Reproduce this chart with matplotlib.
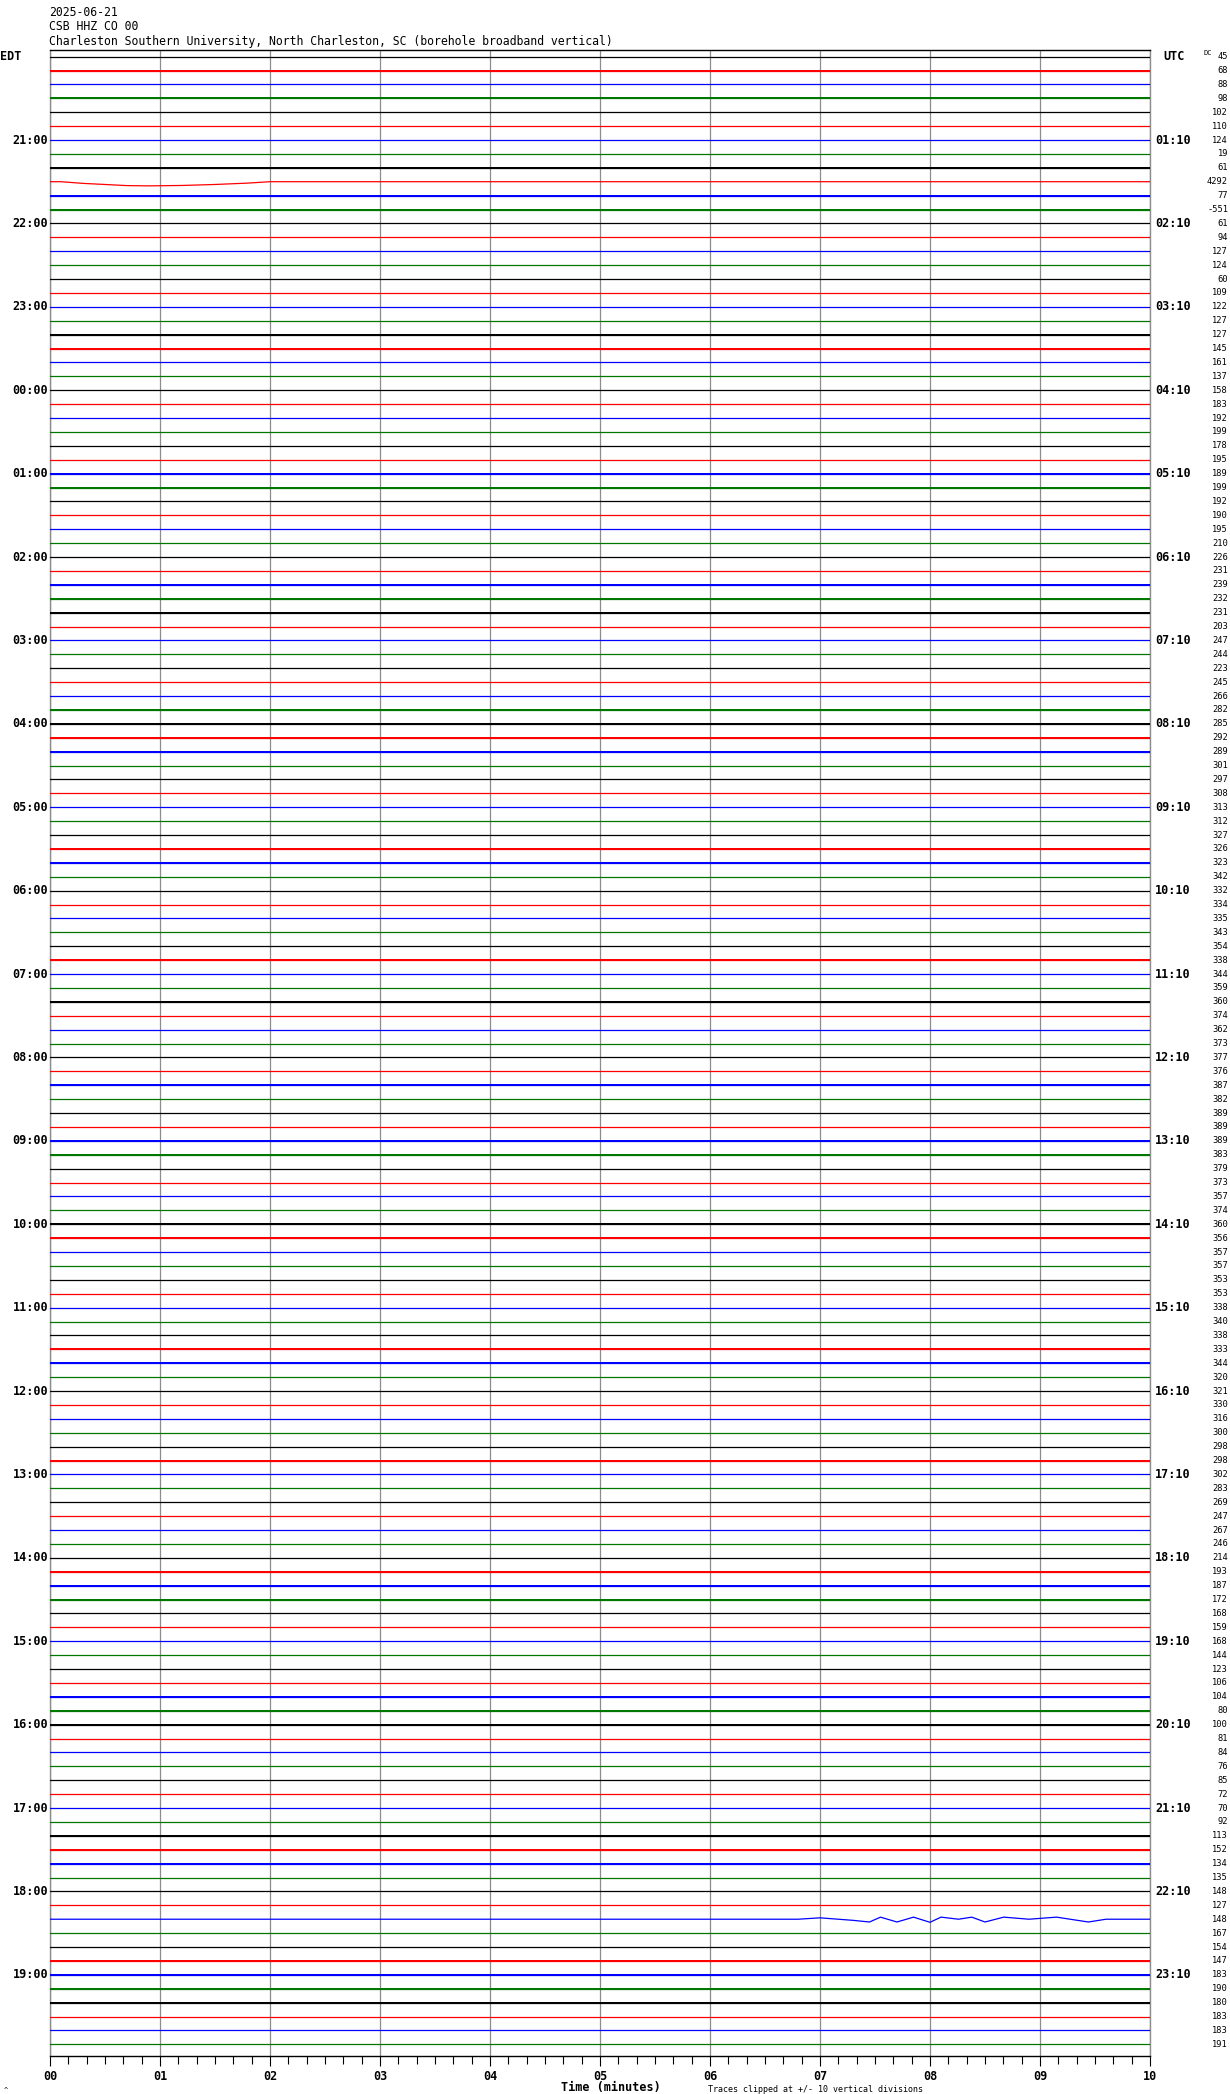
import numpy as np
import matplotlib.pyplot as plt
from matplotlib.ticker import MultipleLocator
from matplotlib.transforms import blended_transform_factory

# DC value printed at the right of every 10-minute line, 20:00 EDT .. 19:50 EDT
dc_values = [
    45, 68, 88, 98, 102, 110,
    124, 19, 61, 4292, 77, -551,
    61, 94, 127, 124, 60, 109,
    122, 127, 127, 145, 161, 137,
    158, 183, 192, 199, 178, 195,
    189, 199, 192, 190, 195, 210,
    226, 231, 239, 232, 231, 203,
    247, 244, 223, 245, 266, 282,
    285, 292, 289, 301, 297, 308,
    313, 312, 327, 326, 323, 342,
    332, 334, 335, 343, 354, 338,
    344, 359, 360, 374, 362, 373,
    377, 376, 387, 382, 389, 389,
    389, 383, 379, 373, 357, 374,
    360, 356, 357, 357, 353, 353,
    338, 340, 338, 333, 344, 320,
    321, 330, 316, 300, 298, 298,
    302, 283, 269, 247, 267, 246,
    214, 193, 187, 172, 168, 159,
    168, 144, 123, 106, 104, 80,
    100, 81, 84, 76, 85, 72,
    70, 92, 113, 152, 134, 135,
    148, 127, 148, 167, 154, 147,
    183, 190, 180, 183, 183, 191,
]

edt_labels = ['21:00', '22:00', '23:00', '00:00', '01:00', '02:00', '03:00',
              '04:00', '05:00', '06:00', '07:00', '08:00', '09:00', '10:00',
              '11:00', '12:00', '13:00', '14:00', '15:00', '16:00', '17:00',
              '18:00', '19:00']
utc_labels = ['01:10', '02:10', '03:10', '04:10', '05:10', '06:10', '07:10',
              '08:10', '09:10', '10:10', '11:10', '12:10', '13:10', '14:10',
              '15:10', '16:10', '17:10', '18:10', '19:10', '20:10', '21:10',
              '22:10', '23:10']
minute_labels = ['00', '01', '02', '03', '04', '05', '06', '07', '08', '09', '10']

# rough background noise per line (0 quiet, 1 busy, 2 very busy)
noise_level = [
    0, 1, 1, 2, 1, 1,
    0, 0, 1, 0, 1, 1,
    1, 1, 1, 0, 0, 0,
    0, 0, 1, 1, 1, 0,
    0, 1, 0, 0, 0, 0,
    2, 1, 1, 0, 0, 0,
    1, 0, 1, 1, 1, 0,
    0, 0, 0, 0, 0, 1,
    2, 1, 1, 0, 0, 0,
    0, 0, 1, 1, 2, 0,
    0, 0, 0, 1, 1, 2,
    1, 0, 1, 0, 0, 0,
    0, 1, 2, 1, 1, 0,
    1, 1, 0, 0, 0, 1,
    2, 2, 1, 0, 0, 0,
    0, 0, 1, 2, 2, 1,
    0, 0, 0, 0, 0, 1,
    1, 0, 1, 0, 0, 0,
    0, 1, 2, 1, 1, 1,
    0, 0, 0, 0, 1, 1,
    2, 0, 0, 0, 0, 0,
    0, 0, 1, 2, 2, 0,
    0, 1, 0, 1, 1, 1,
    2, 1, 1, 0, 0, 0,
]

# slow wiggles seen on two lines: (minutes, offset in divisions)
wiggle_21_30 = ([0.1, 0.3, 0.5, 0.7, 0.9, 1.2, 1.5, 1.8, 2.0],
                [0.0, -0.12, -0.2, -0.28, -0.3, -0.27, -0.2, -0.1, 0.0])
wiggle_18_20 = ([6.8, 7.0, 7.3, 7.45, 7.55, 7.7, 7.85, 8.0, 8.1, 8.26, 8.38,
                 8.5, 8.67, 8.9, 9.15, 9.44, 9.6],
                [0.0, 0.1, -0.08, -0.2, 0.15, -0.2, 0.15, -0.22, 0.15, 0.0,
                 0.15, -0.2, 0.15, 0.0, 0.15, -0.2, 0.0])
wiggles = {9: wiggle_21_30, 134: wiggle_18_20}

W, H = 1230, 2094
colors = ['black', 'red', 'blue', '#007800']
mono = 'DejaVu Sans Mono'

fig = plt.figure(figsize=(W / 100, H / 100), dpi=100)
ax = fig.add_axes([50 / W, 1 - 2056 / H, 1100 / W, 2006 / H])
ax.set_axisbelow(True)

for i, dc in enumerate(dc_values):
    c = colors[i % 4]
    if i in wiggles:
        xm, off = wiggles[i]
        xs = np.array([0] + xm + [10])
        ys = -i + np.array([0] + off + [0])
    else:
        xs = np.array([0, 10])
        ys = np.array([-i, -i])
    ax.plot(xs, ys, color=c, lw=0.9, zorder=3)
    a = 0.035 * noise_level[i]
    if a > 0:
        ax.fill_between(xs, ys - a, ys + a, color=c, lw=0, zorder=3)

ax.set_xlim(0, 10)
ax.set_ylim(-143.84, 0.475)
ax.set_yticks([])
ax.set_xticks(range(11))
ax.set_xticklabels(minute_labels, family=mono, weight='bold', fontsize=8.5)
ax.xaxis.set_minor_locator(MultipleLocator(1 / 6))
ax.tick_params(axis='x', which='major', length=7, width=0.8, pad=3, direction='out')
ax.tick_params(axis='x', which='minor', length=5.5, width=0.8, direction='out')
ax.grid(axis='x', which='major', color='#8c8c8c', lw=0.9)
ax.spines['left'].set_color('#8c8c8c')
ax.spines['right'].set_color('#8c8c8c')
for s in ax.spines.values():
    s.set_linewidth(1.0)

trans = blended_transform_factory(fig.transFigure, ax.transData)
for k in range(len(edt_labels)):
    i = 6 * (k + 1)
    ax.text(48 / W, -i, edt_labels[k], transform=trans, ha='right', va='center',
            family=mono, weight='bold', fontsize=8.5)
    ax.text(1155 / W, -i, utc_labels[k], transform=trans, ha='left', va='center',
            family=mono, weight='bold', fontsize=8.5)
for i, dc in enumerate(dc_values):
    ax.text(1228 / W, -i, str(dc), transform=trans, ha='right', va='center',
            family=mono, fontsize=6.3)

ax.text(0, 0, 'EDT', transform=trans, ha='left', va='center',
        family=mono, weight='bold', fontsize=8.5)
ax.text(1163 / W, 0, 'UTC', transform=trans, ha='left', va='center',
        family=mono, weight='bold', fontsize=8.5)
ax.text(1204 / W, 0.25, 'DC', transform=trans, ha='left', va='center',
        family=mono, fontsize=5)

fig.text(49 / W, 1 - 12 / H, '2025-06-21', family=mono, fontsize=8.3, va='center')
fig.text(49 / W, 1 - 27 / H, 'CSB HHZ CO 00', family=mono, fontsize=8.3, va='center')
fig.text(49 / W, 1 - 41 / H,
         'Charleston Southern University, North Charleston, SC (borehole broadband vertical)',
         family=mono, fontsize=8.3, va='center')
fig.text(611 / W, 1 - 2088 / H, 'Time (minutes)', family=mono, weight='bold',
         fontsize=8.5, ha='center', va='center')
fig.text(708 / W, 1 - 2089 / H, 'Traces clipped at +/- 10 vertical divisions',
         family=mono, fontsize=6, ha='left', va='center')
fig.text(4 / W, 1 - 2090 / H, '^', family=mono, fontsize=5, ha='left', va='center')

fig.savefig('out.png', dpi=100)
